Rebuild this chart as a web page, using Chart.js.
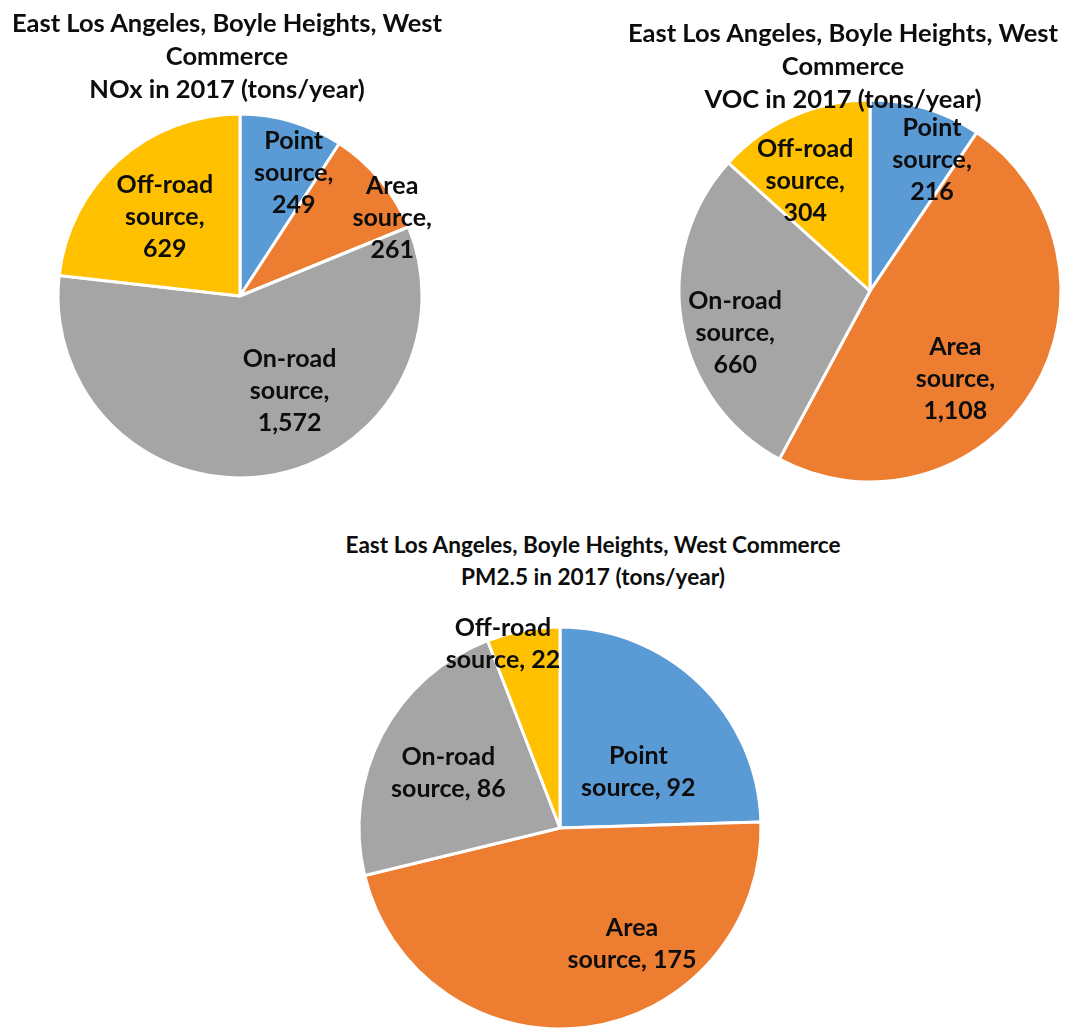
<!DOCTYPE html>
<html>
<head>
<meta charset="utf-8">
<script src="https://cdn.jsdelivr.net/npm/chart.js@4.4.1/dist/chart.umd.min.js"></script>
<style>
  html, body { margin: 0; padding: 0; background: #fff; width: 1065px; height: 1030px; overflow: hidden; }
  .pie { position: absolute; }
  .title {
    position: absolute; z-index: 2; text-align: center; white-space: nowrap;
    font: bold 25.5px Lato, sans-serif; line-height: 33px; color: #0d0d0d;
  }
</style>
</head>
<body>
<div class="title" id="t1" style="left:-23px; top:6px; width:500px;">East Los Angeles, Boyle Heights, West<br>Commerce<br>NOx in 2017 (tons/year)</div>
<div class="title" id="t2" style="left:593px; top:16px; width:500px;">East Los Angeles, Boyle Heights, West<br>Commerce<br>VOC in 2017 (tons/year)</div>
<div class="title" id="t3" style="left:293px; top:529px; width:600px; font-size:22.6px; line-height:32px;">East Los Angeles, Boyle Heights, West Commerce<br>PM2.5 in 2017 (tons/year)</div>

<canvas class="pie" id="noxChart"></canvas>
<canvas class="pie" id="vocChart"></canvas>
<canvas class="pie" id="pmChart"></canvas>

<script>
// data (tons/year, 2017)
const categories = ['Point source', 'Area source', 'On-road source', 'Off-road source'];
const noxValues = [249, 261, 1572, 629];
const vocValues = [216, 1108, 660, 304];
const pm25Values = [92, 175, 86, 22];

const sliceColors = ['#5B9BD5', '#ED7D31', '#A5A5A5', '#FFC000'];

// draws "category, value" inside each slice; place = [angle from top in deg, fraction of radius]
const sliceLabels = {
    id: 'sliceLabels',
    afterDatasetsDraw(chart, args, opts) {
        const ctx = chart.ctx;
        const meta = chart.getDatasetMeta(0);
        const values = chart.data.datasets[0].data;
        ctx.save();
        ctx.font = 'bold 25px Lato, sans-serif';
        ctx.fillStyle = '#0d0d0d';
        ctx.textAlign = 'center';
        ctx.textBaseline = 'middle';
        meta.data.forEach((arc, i) => {
            const words = (chart.data.labels[i] + ', ' + values[i].toLocaleString('en-US')).split(' ');
            const lines = opts.splitAll ? words : [words[0], words.slice(1).join(' ')];
            const p = opts.place[i];
            const a = p[0] * Math.PI / 180;
            const x = arc.x + Math.sin(a) * p[1] * arc.outerRadius;
            const y = arc.y - Math.cos(a) * p[1] * arc.outerRadius;
            const lh = 32;
            lines.forEach((ln, j) => {
                ctx.fillText(ln, x, y + (j - (lines.length - 1) / 2) * lh);
            });
        });
        ctx.restore();
    }
};

function makePie(id, values, cx, cy, r, labelOpts) {
    const canvas = document.getElementById(id);
    const size = 2 * r + 60;
    canvas.width = size;
    canvas.height = size;
    canvas.style.left = (cx - size / 2) + 'px';
    canvas.style.top = (cy - size / 2) + 'px';
    new Chart(canvas.getContext('2d'), {
        type: 'pie',
        data: {
            labels: categories,
            datasets: [{
                data: values,
                backgroundColor: sliceColors,
                borderColor: '#fff',
                borderWidth: 3
            }]
        },
        options: {
            responsive: false,
            animation: false,
            radius: r,
            plugins: {
                legend: { display: false },
                tooltip: { enabled: false },
                sliceLabels: labelOpts
            }
        },
        plugins: [sliceLabels]
    });
}

makePie('noxChart', noxValues, 240, 296, 182, {
    splitAll: true,
    place: [[23.5, 0.74], [62.8, 0.94], [152.5, 0.59], [316.5, 0.60]]
});
makePie('vocChart', vocValues, 870, 291, 191, {
    splitAll: true,
    place: [[25.3, 0.76], [135.7, 0.64], [252.6, 0.74], [329.6, 0.67]]
});
makePie('pmChart', pm25Values, 560, 828, 201, {
    splitAll: false,
    place: [[54.3, 0.48], [148.2, 0.68], [296.4, 0.62], [342.8, 0.96]]
});
</script>
</body>
</html>
